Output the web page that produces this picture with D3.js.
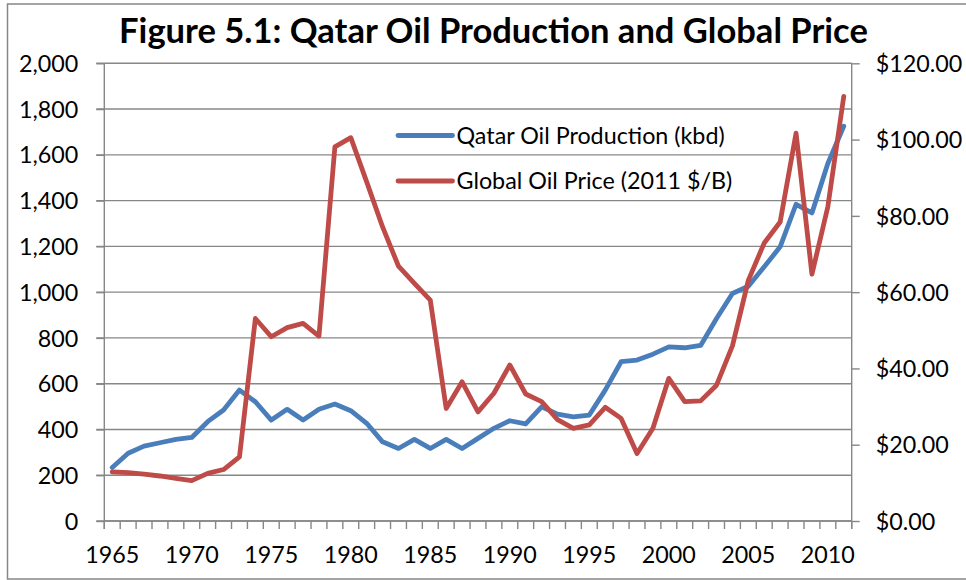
<!DOCTYPE html>
<html>
<head>
<meta charset="utf-8">
<script src="https://cdn.jsdelivr.net/npm/d3@7"></script>
<style>
  html, body { margin: 0; padding: 0; background: #fff; }
  svg { display: block; }
  text { font-family: Lato, "Open Sans", sans-serif; fill: #000; }
</style>
</head>
<body>
<svg id="chart" width="966" height="580"></svg>
<script>
// ---- Data ----
const years = d3.range(1965, 2012);
const production = [234,296,327,342,357,365,434,485,572,521,
                    441,488,441,488,511,482,427,346,317,357,
                    317,357,317,361,405,438,424,499,467,455,
                    463,572,696,703,729,761,757,767,885,994,
                    1026,1111,1198,1384,1346,1562,1725];
const price = [12.9,12.7,12.3,11.8,11.2,10.6,12.5,13.5,16.8,53.1,
               48.3,50.7,51.8,48.5,98.1,100.5,88.9,77.1,66.8,62.3,
               57.9,29.5,36.5,28.6,33.5,40.9,33.3,31.3,26.6,24.3,
               25.2,29.8,26.9,17.7,24.3,37.4,31.3,31.5,35.6,45.9,
               63.1,72.9,78.4,101.7,64.7,82.4,111.3];
const leftTicks = [0,200,400,600,800,1000,1200,1400,1600,1800,2000];
const rightTicks = [0,20,40,60,80,100,120];
const xLabelYears = [1965,1970,1975,1980,1985,1990,1995,2000,2005,2010];
const seriesNames = ["Qatar Oil Production (kbd)", "Global Oil Price (2011 $/B)"];
const titleText = "Figure 5.1: Qatar Oil Production and Global Price";

// ---- Layout ----
const svg = d3.select("#chart");
const L = 104.3, R = 851.7, T = 63.3, B = 521;
const gridColor = "#878787";
const blue = "#4a7ebb", red = "#be4b48";
const fs = "23.3px";

const x = d3.scaleBand().domain(years).range([L, R]).padding(0);
const xc = d => x(d) + x.bandwidth() / 2;
const yL = d3.scaleLinear().domain([0, 2000]).range([B, T]);
const yR = d3.scaleLinear().domain([0, 120]).range([B, T]);

// outer frame
svg.append("rect").attr("x", 7.5).attr("y", 4).attr("width", 980).attr("height", 575)
  .attr("fill", "none").attr("stroke", gridColor).attr("stroke-width", 1.5);

// gridlines (left axis ticks)
svg.append("g").selectAll("line").data(leftTicks).join("line")
  .attr("x1", L - 8).attr("x2", R)
  .attr("y1", d => yL(d)).attr("y2", d => yL(d))
  .attr("stroke", gridColor).attr("stroke-width", 1.4);

// left axis
const gL = svg.append("g").attr("transform", `translate(${L},0)`)
  .call(d3.axisLeft(yL).tickValues(leftTicks).tickFormat(d3.format(",")).tickSize(8).tickPadding(18));
gL.select(".domain").attr("stroke", gridColor).attr("stroke-width", 1.4).attr("d", `M0,${T}V${B + 8}`);
gL.selectAll(".tick line").attr("stroke", gridColor).attr("stroke-width", 1.4);
gL.selectAll(".tick text").style("font-size", fs).style("font-family", "Lato").attr("dy", "0.35em");

// right axis
const gR = svg.append("g").attr("transform", `translate(${R},0)`)
  .call(d3.axisRight(yR).tickValues(rightTicks).tickFormat(d => "$" + d3.format(".2f")(d)).tickSize(8).tickPadding(16));
gR.select(".domain").attr("stroke", gridColor).attr("stroke-width", 1.4).attr("d", `M0,${T}V${B + 8}`);
gR.selectAll(".tick line").attr("stroke", gridColor).attr("stroke-width", 1.4);
gR.selectAll(".tick text").style("font-size", fs).style("font-family", "Lato").attr("dy", "0.35em");

// x axis: tick marks at category boundaries
const bounds = years.map(d => x(d)).concat([R]);
svg.append("g").selectAll("line").data(bounds).join("line")
  .attr("x1", d => d).attr("x2", d => d).attr("y1", B).attr("y2", B + 8)
  .attr("stroke", gridColor).attr("stroke-width", 1.4);
svg.append("line").attr("x1", L).attr("x2", R).attr("y1", B).attr("y2", B)
  .attr("stroke", gridColor).attr("stroke-width", 1.4);
svg.append("g").selectAll("text").data(xLabelYears).join("text")
  .attr("x", d => xc(d)).attr("y", 562.5).attr("text-anchor", "middle")
  .style("font-size", fs).text(d => d);

// lines
const lineP = d3.line().x((d, i) => xc(years[i])).y(d => yL(d));
const lineR = d3.line().x((d, i) => xc(years[i])).y(d => yR(d));
svg.append("path").datum(production).attr("d", lineP)
  .attr("fill", "none").attr("stroke", blue).attr("stroke-width", 4.8)
  .attr("stroke-linejoin", "round").attr("stroke-linecap", "round");
svg.append("path").datum(price).attr("d", lineR)
  .attr("fill", "none").attr("stroke", red).attr("stroke-width", 4.8)
  .attr("stroke-linejoin", "round").attr("stroke-linecap", "round");

// legend
const legend = svg.append("g");
const legY = [135.5, 181];
const legCol = [blue, red];
seriesNames.forEach((name, i) => {
  legend.append("line").attr("x1", 398).attr("x2", 452.5).attr("y1", legY[i]).attr("y2", legY[i])
    .attr("stroke", legCol[i]).attr("stroke-width", 4.8).attr("stroke-linecap", "round");
  legend.append("text").attr("x", 456.5).attr("y", legY[i]).attr("dy", "0.35em")
    .style("font-size", fs).text(name);
});

// title
const title = svg.append("text").attr("x", 493.5).attr("y", 43).attr("text-anchor", "middle")
  .style("font-size", "28px").style("font-weight", "bold").text(titleText);
const w = title.node().getComputedTextLength();
title.style("font-size", (28 * 749 / w).toFixed(2) + "px");
</script>
</body>
</html>
